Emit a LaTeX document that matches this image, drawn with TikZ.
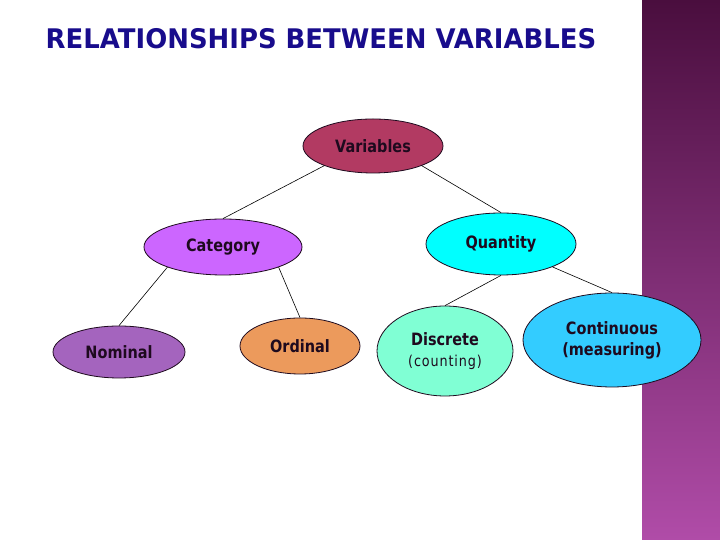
\documentclass[tikz,border=0pt]{standalone}
\usepackage{fontspec}
\setmainfont[FakeStretch=0.85]{DejaVu Sans}
\newfontfamily\titlefont[FakeStretch=0.96]{DejaVu Sans}
\usetikzlibrary{shapes.geometric}

\definecolor{titleblue}{RGB}{24,12,140}
\definecolor{inkdark}{RGB}{30,10,30}
\definecolor{varfill}{RGB}{178,58,98}
\definecolor{catfill}{RGB}{204,102,255}
\definecolor{quantfill}{RGB}{0,255,255}
\definecolor{nomfill}{RGB}{164,100,190}
\definecolor{ordfill}{RGB}{236,154,92}
\definecolor{discfill}{RGB}{128,255,212}
\definecolor{contfill}{RGB}{51,204,255}
\definecolor{striptop}{RGB}{74,14,62}
\definecolor{stripbot}{RGB}{176,76,168}

\tikzset{
  oval/.style={ellipse, draw=inkdark, line width=0.8pt, inner sep=0pt,
    text=inkdark, font=\bfseries\fontsize{17}{21}\selectfont, align=center},
  link/.style={draw=black, line width=0.6pt},
}

\begin{document}
\begin{tikzpicture}[x=1pt, y=1pt]

\def \ytitle {501}
\def \yroot  {394}
\def \ymid   {294}
\def \yleaf  {190}

\useasboundingbox (0,0) rectangle (720,540);
% side strip
\shade [top color=striptop, bottom color=stripbot] (642,0) rectangle (720,540);

% title
\node (title) [text=titleblue, font=\titlefont\bfseries\fontsize{27}{30}\selectfont]
  at (321, \ytitle) {RELATIONSHIPS BETWEEN VARIABLES};

% root
\node (vars) [oval, fill=varfill, minimum width=140, minimum height=54] at (373, \yroot) {Variables};
% second row
\node (cat)   [oval, fill=catfill,   minimum width=158, minimum height=56] at (223, 293) {Category};
\node (quant) [oval, fill=quantfill, minimum width=150, minimum height=62] at (501, 296) {Quantity};
% leaves
\node (nom)  [oval, fill=nomfill,  minimum width=132, minimum height=52] at (119, 188) {Nominal};
\node (ord)  [oval, fill=ordfill,  minimum width=120, minimum height=56] at (300, 194) {Ordinal};
\node (disc) [oval, fill=discfill, minimum width=136, minimum height=90] at (445, 189)
  {Discrete\\{\mdseries\fontsize{15}{16}\selectfont\addfontfeatures{LetterSpace=6}(counting)}};
\node (cont) [oval, fill=contfill, minimum width=178, minimum height=94] at (612, 200)
  {Continuous\\(measuring)};

% links
\draw [link] (vars.202) -- (cat.north);
\draw [link] (vars.338) -- (quant.north);
\draw [link] (cat.200)  -- (nom.north);
\draw [link] (cat.340)  -- (ord.north);
\draw [link] (quant.south) -- (disc.north);
\draw [link] (quant.336)   -- (cont.north);

\end{tikzpicture}
\end{document}
